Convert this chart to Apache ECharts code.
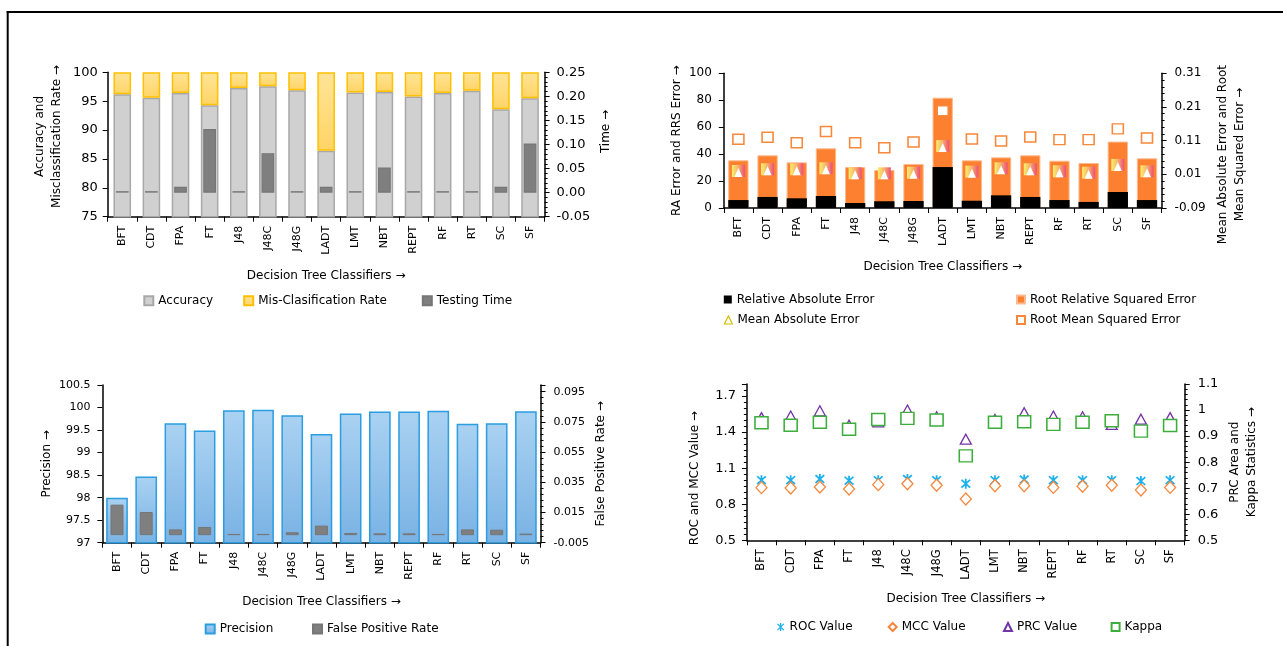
<!DOCTYPE html>
<html lang="en">
<head>
<meta charset="UTF-8">
<title>Decision Tree Classifiers</title>
<script src="https://cdn.jsdelivr.net/npm/echarts@6/dist/echarts.min.js"></script>
<style>
  html, body { margin: 0; padding: 0; background: #fff; }
  #main { width: 1283px; height: 646px; }
</style>
</head>
<body>
<div id="main"></div>
<script>
var classifiers = ['BFT', 'CDT', 'FPA', 'FT', 'J48', 'J48C', 'J48G', 'LADT', 'LMT', 'NBT', 'REPT', 'RF', 'RT', 'SC', 'SF'];

// top left: accuracy / mis-classification (left axis), testing time (right axis)
var accuracy = [96.2, 95.6, 96.4, 94.3, 97.3, 97.6, 96.9, 86.4, 96.5, 96.6, 95.8, 96.4, 96.8, 93.6, 95.5];
var misRate  = [3.8, 4.4, 3.6, 5.7, 2.7, 2.4, 3.1, 13.6, 3.5, 3.4, 4.2, 3.6, 3.2, 6.4, 4.5];
var testTime = [0.003, 0.003, 0.012, 0.132, 0.003, 0.082, 0.003, 0.012, 0.003, 0.052, 0.003, 0.003, 0.003, 0.012, 0.102];

// top right: RAE / RRSE (left axis), MAE / RMSE (right axis)
var rae  = [5.9, 8.2, 7.2, 8.9, 3.7, 5.0, 5.2, 30.4, 5.4, 9.4, 8.2, 5.9, 4.5, 11.9, 5.9];
var rrse = [35.4, 39.1, 33.9, 44.3, 30.4, 28.2, 32.7, 81.9, 35.4, 37.6, 39.1, 35.1, 33.4, 49.3, 36.9];
var mae  = [0.020, 0.025, 0.025, 0.028, 0.013, 0.013, 0.015, 0.094, 0.018, 0.028, 0.025, 0.019, 0.015, 0.038, 0.019];
var rmse = [0.114, 0.120, 0.104, 0.137, 0.104, 0.089, 0.106, 0.199, 0.115, 0.109, 0.121, 0.113, 0.113, 0.145, 0.118];

// bottom left: precision (left axis), false positive rate (right axis)
var precision = [98.0, 98.47, 99.65, 99.49, 99.94, 99.95, 99.83, 99.41, 99.87, 99.91, 99.91, 99.93, 99.64, 99.65, 99.92];
var fpRate    = [0.0202, 0.0153, 0.0038, 0.0054, 0.0008, 0.0008, 0.0019, 0.0063, 0.0014, 0.0012, 0.0012, 0.0008, 0.0038, 0.0036, 0.0010];

// bottom right: ROC / MCC (left axis), PRC / Kappa (right axis)
var roc   = [1.000, 1.000, 1.010, 0.996, 1.000, 1.010, 1.000, 0.971, 1.000, 1.005, 1.000, 1.000, 1.000, 0.993, 1.000];
var mcc   = [0.938, 0.935, 0.943, 0.927, 0.963, 0.971, 0.957, 0.843, 0.954, 0.954, 0.940, 0.949, 0.957, 0.918, 0.940];
var prc   = [0.971, 0.977, 0.997, 0.942, 0.955, 1.000, 0.974, 0.888, 0.964, 0.990, 0.977, 0.974, 0.945, 0.965, 0.971];
var kappa = [0.951, 0.942, 0.953, 0.926, 0.964, 0.968, 0.962, 0.824, 0.953, 0.955, 0.945, 0.953, 0.959, 0.919, 0.941];

var FONT = 'DejaVu Sans';
var asterisk = 'path://M8.4,0L11.6,0L11.6,20L8.4,20Z M1,3.3L3.3,1L19,16.7L16.7,19Z M16.7,1L19,3.3L3.3,19L1,16.7Z';

function onGrid(min, interval, digits) {
    return function (v) {
        var k = (v - min) / interval;
        if (Math.abs(k - Math.round(k)) > 1e-6) return '';
        return digits == null ? String(+v.toFixed(3)) : v.toFixed(digits);
    };
}

function catAxis(grid, labelSize) {
    return {
        type: 'category', gridIndex: grid, data: classifiers,
        name: 'Decision Tree Classifiers \u2192', nameLocation: 'middle', nameGap: 51,
        nameTextStyle: { fontFamily: FONT, fontSize: 12, color: '#000', lineHeight: 16 },
        axisLine: { show: true, onZero: false, lineStyle: { color: '#000', width: 1.5 } },
        axisTick: { show: true, length: 5, lineStyle: { color: '#000', width: 1 } },
        axisLabel: { rotate: 90, interval: 0, margin: 9, fontFamily: FONT, fontSize: labelSize, color: '#000' },
        splitLine: { show: false }
    };
}

function hiddenAxis(grid) {
    return { type: 'category', gridIndex: grid, data: classifiers, show: false };
}

// shift > 0 moves the rotated name down, shift < 0 moves it up
function valAxis(grid, pos, min, max, interval, fmt, name, gap, shift, labelSize, minor, margin) {
    return {
        type: 'value', gridIndex: grid, position: pos, min: min, max: max, interval: interval,
        name: name, nameLocation: 'middle', nameRotate: 90, nameGap: gap,
        nameTextStyle: {
            fontFamily: FONT, fontSize: 12, color: '#000', lineHeight: 17,
            padding: shift > 0 ? [0, 2 * shift, 0, 0] : [0, 0, 0, -2 * shift]
        },
        axisLine: { show: true, lineStyle: { color: '#000', width: 1.5 } },
        axisTick: { show: true, length: 5, lineStyle: { color: '#000', width: 1 } },
        minorTick: { show: !!minor, splitNumber: minor || 5, length: 3, lineStyle: { color: '#000', width: 1 } },
        axisLabel: { formatter: fmt, margin: margin, fontFamily: FONT, fontSize: labelSize, color: '#000' },
        splitLine: { show: false },
        minorSplitLine: { show: false }
    };
}

function leg(item, left, top, w) {
    return {
        data: [item], left: left, top: top, padding: 0, itemWidth: w || 9, itemHeight: w || 9,
        selectedMode: false,
        textStyle: { fontFamily: FONT, fontSize: 12, color: '#000' }
    };
}

var yellowFill = new echarts.graphic.LinearGradient(0, 0, 0, 1, [
    { offset: 0, color: '#ffe497' }, { offset: 1, color: '#ffd466' }]);
var blueFill = new echarts.graphic.LinearGradient(0, 0, 0, 1, [
    { offset: 0, color: '#aad2f2' }, { offset: 1, color: '#79b2e4' }]);
var maeFill = new echarts.graphic.LinearGradient(0, 0, 1, 0, [
    { offset: 0, color: '#f6f06c' }, { offset: 0.5, color: '#f8b06a' }, { offset: 1, color: '#ec4d7c' }]);

var option = {
    animation: false,
    backgroundColor: '#fff',
    grid: [
        { left: 107.7, top: 72.3, width: 436.9, height: 144.4, containLabel: false, outerBoundsMode: 'none' },
        { left: 723.8, top: 73.3, width: 437.8, height: 134.7, containLabel: false, outerBoundsMode: 'none' },
        { left: 102.4, top: 385, width: 438.1, height: 157.7, containLabel: false, outerBoundsMode: 'none' },
        { left: 746.9, top: 384, width: 437.8, height: 156.3, containLabel: false, outerBoundsMode: 'none' }
    ],
    xAxis: [
        catAxis(0, 11), hiddenAxis(0),
        catAxis(1, 11),
        catAxis(2, 11), hiddenAxis(2),
        catAxis(3, 11.5)
    ],
    yAxis: [
        valAxis(0, 'left', 75, 100, 5, onGrid(75, 5, 0), 'Accuracy and\nMisclassification Rate \u2192', 42, -8, 13, 0, 10),
        valAxis(0, 'right', -0.05, 0.25, 0.05, onGrid(-0.05, 0.05, 2), 'Time \u2192', 53, -13, 13, 5, 12),
        valAxis(1, 'left', 0, 100, 20, onGrid(0, 20, 0), 'RA Error and RRS Error \u2192', 36, 0, 12, 0, 12),
        valAxis(1, 'right', -0.09, 0.31, 0.1, onGrid(-0.09, 0.1, 2), 'Mean Absolute Error and Root\nMean Squared Error \u2192', 53, 14, 12, 5, 13),
        valAxis(2, 'left', 97, 100.5, 0.5, onGrid(97, 0.5), 'Precision \u2192', 45, 0, 11, 0, 12),
        valAxis(2, 'right', -0.005, 0.0994, 0.02, onGrid(-0.005, 0.02, 3), 'False Positive Rate \u2192', 52, 0, 11, 5, 13),
        valAxis(3, 'left', 0.5, 1.8, 0.3, onGrid(0.5, 0.3, 1), 'ROC and MCC Value \u2192', 44, 16, 13, 6, 11),
        valAxis(3, 'right', 0.5, 1.1, 0.1, onGrid(0.5, 0.1), 'PRC Area and\nKappa Statistics \u2192', 42, 0, 13, 5, 13)
    ],
    legend: [
        leg({ name: 'Accuracy', icon: 'rect' }, 143.3, 294.7),
        leg({ name: 'Mis-Clasification Rate', icon: 'rect' }, 243.2, 294.7),
        leg({ name: 'Testing Time', icon: 'rect' }, 421.8, 294.7),
        leg({ name: 'Relative Absolute Error', icon: 'rect' }, 723.8, 293.5, 8),
        leg({ name: 'Root Relative Squared Error', icon: 'rect' }, 1016, 293.5, 8),
        leg({ name: 'Mean Absolute Error', icon: 'triangle',
              itemStyle: { color: '#fff', borderColor: '#d9bd00', borderWidth: 1.2 } }, 723.8, 314, 8),
        leg({ name: 'Root Mean Squared Error', icon: 'rect' }, 1016, 314, 8),
        leg({ name: 'Precision', icon: 'rect' }, 204.7, 623),
        leg({ name: 'False Positive Rate', icon: 'rect' }, 312, 623),
        leg({ name: 'ROC Value', icon: asterisk }, 777, 621, 8),
        leg('MCC Value', 887.7, 621, 8),
        leg('PRC Value', 1003, 621, 8),
        leg({ name: 'Kappa', icon: 'rect' }, 1110.6, 621, 8)
    ],
    graphic: [
        { type: 'line', shape: { x1: 6.7, y1: 12, x2: 1283, y2: 12 }, style: { stroke: '#000', lineWidth: 2 } },
        { type: 'line', shape: { x1: 7.7, y1: 11, x2: 7.7, y2: 646 }, style: { stroke: '#000', lineWidth: 2 } }
    ],
    series: [
        // top left
        { name: 'Accuracy', type: 'bar', xAxisIndex: 0, yAxisIndex: 0, stack: 'acc', data: accuracy,
          barWidth: 17.6, clip: true,
          itemStyle: { color: '#d0d0d0', borderColor: '#a8a8a8', borderWidth: 1.5 } },
        { name: 'Mis-Clasification Rate', type: 'bar', xAxisIndex: 0, yAxisIndex: 0, stack: 'acc', data: misRate,
          barWidth: 17.6, clip: true,
          itemStyle: { color: yellowFill, borderColor: '#ffc000', borderWidth: 1.5 } },
        { name: 'Testing Time', type: 'bar', xAxisIndex: 1, yAxisIndex: 1, data: testTime,
          barWidth: 12.7, clip: true,
          itemStyle: { color: '#7f7f7f', borderColor: '#767676', borderWidth: 1.2 } },

        // top right
        { name: 'Root Relative Squared Error', type: 'bar', xAxisIndex: 2, yAxisIndex: 2, data: rrse,
          barWidth: 20.3, barGap: '-100%',
          itemStyle: { color: '#fd8030', borderColor: '#fcbb8e', borderWidth: 1 } },
        { name: 'Relative Absolute Error', type: 'bar', xAxisIndex: 2, yAxisIndex: 2, data: rae,
          barWidth: 20.3, barGap: '-100%',
          itemStyle: { color: '#000' } },
        { name: 'Mean Absolute Error', type: 'scatter', xAxisIndex: 2, yAxisIndex: 3, data: mae,
          symbol: 'rect', symbolSize: [13, 12], z: 3,
          itemStyle: { color: maeFill, opacity: 1 } },
        { name: 'mae-inner', type: 'scatter', xAxisIndex: 2, yAxisIndex: 3, data: mae,
          symbol: 'triangle', symbolSize: [8, 9], symbolOffset: [0, 1.5], z: 4, silent: true,
          itemStyle: { color: '#fff', opacity: 1 } },
        { name: 'Root Mean Squared Error', type: 'scatter', xAxisIndex: 2, yAxisIndex: 3, data: rmse,
          symbol: 'rect', symbolSize: [11, 10], z: 3,
          itemStyle: { color: '#fff', borderColor: '#f8883a', borderWidth: 1.5, opacity: 1 } },

        // bottom left
        { name: 'Precision', type: 'bar', xAxisIndex: 3, yAxisIndex: 4, data: precision,
          barWidth: 21.7, clip: true,
          itemStyle: { color: blueFill, borderColor: '#2b9de0', borderWidth: 1.5 } },
        { name: 'False Positive Rate', type: 'bar', xAxisIndex: 4, yAxisIndex: 5, data: fpRate,
          barWidth: 13, clip: true,
          itemStyle: { color: '#7f7f7f', borderColor: '#767676', borderWidth: 1 } },

        // bottom right
        { name: 'ROC Value', type: 'scatter', xAxisIndex: 5, yAxisIndex: 6, data: roc,
          symbol: asterisk, symbolSize: [10, 10],
          itemStyle: { color: '#19b0ee', opacity: 1 } },
        { name: 'MCC Value', type: 'scatter', xAxisIndex: 5, yAxisIndex: 6, data: mcc,
          symbol: 'diamond', symbolSize: [11, 12],
          itemStyle: { color: '#fff', borderColor: '#f7873c', borderWidth: 1.3, opacity: 1 } },
        { name: 'PRC Value', type: 'scatter', xAxisIndex: 5, yAxisIndex: 7, data: prc,
          symbol: 'triangle', symbolSize: [11, 10],
          itemStyle: { color: '#fff', borderColor: '#7434a6', borderWidth: 1.3, opacity: 1 } },
        { name: 'Kappa', type: 'scatter', xAxisIndex: 5, yAxisIndex: 7, data: kappa,
          symbol: 'rect', symbolSize: [13, 12],
          itemStyle: { color: '#fff', borderColor: '#3cae3c', borderWidth: 1.5, opacity: 1 } }
    ]
};

var chart = echarts.init(document.getElementById('main'));
chart.setOption(option);
</script>
</body>
</html>
